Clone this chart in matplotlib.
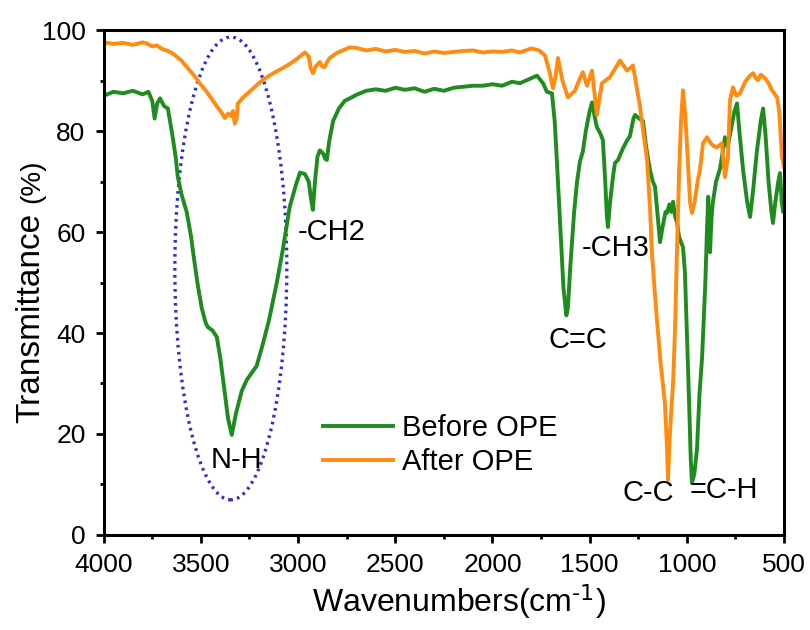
import matplotlib
matplotlib.use('Agg')
import numpy
from matplotlib import pyplot
from matplotlib.patches import Ellipse

pyplot.rcParams['font.family'] = ['Liberation Sans', 'DejaVu Sans']
pyplot.rcParams['mathtext.default'] = 'regular'

# Before OPE (green), wavenumber / transmittance
before_wn = [4000, 3950, 3900, 3850, 3800, 3770, 3750, 3738, 3725, 3710, 3690, 3670,
             3650, 3630, 3619, 3600, 3573, 3550, 3540, 3520, 3496, 3475, 3465, 3440,
             3418, 3400, 3380, 3360, 3341, 3320, 3290, 3264, 3240, 3213, 3180, 3150,
             3110, 3079, 3043, 3010, 2990, 2965, 2945, 2935, 2924, 2912, 2900, 2888,
             2870, 2860, 2852, 2840, 2820, 2790, 2760, 2734, 2700, 2650, 2600, 2550,
             2500, 2450, 2400, 2350, 2300, 2250, 2200, 2150, 2100, 2050, 2000, 1950,
             1900, 1859, 1800, 1771, 1750, 1740, 1720, 1694, 1680, 1669, 1650, 1635,
             1620, 1612, 1600, 1580, 1565, 1550, 1535, 1520, 1500, 1488, 1475, 1463,
             1445, 1432, 1420, 1412, 1406, 1395, 1380, 1370, 1354, 1330, 1310, 1293,
             1275, 1267, 1245, 1226, 1210, 1190, 1175, 1164, 1150, 1138, 1125, 1110,
             1102, 1090, 1080, 1071, 1060, 1051, 1040, 1030, 1020, 1010, 1000, 990,
             980, 974, 962, 948, 935, 922, 905, 897, 890, 881, 873, 866, 850, 830,
             815, 804, 790, 770, 755, 742, 730, 710, 690, 675, 660, 640, 620, 608,
             595, 580, 565, 557, 545, 530, 521, 512, 505, 500]
before_t = [87.0, 87.8, 87.5, 88.0, 87.3, 87.8, 86.0, 82.5, 85.5, 86.5, 85.0, 84.5,
            80.0, 75.0, 71.0, 67.5, 64.0, 59.0, 56.0, 50.5, 45.0, 42.0, 41.2, 40.5,
            39.2, 35.0, 29.0, 23.0, 19.8, 24.0, 28.5, 30.7, 32.0, 33.5, 38.0, 42.5,
            49.9, 56.4, 65.0, 69.5, 71.8, 71.5, 70.0, 67.0, 64.4, 70.5, 75.0, 76.2,
            75.5, 74.5, 74.3, 78.0, 82.0, 84.5, 86.0, 86.5, 87.2, 88.0, 88.3, 88.0,
            88.6, 88.2, 88.5, 87.8, 88.4, 88.0, 88.6, 88.8, 89.0, 89.0, 89.3, 89.0,
            89.8, 89.5, 90.5, 91.0, 90.0, 89.5, 87.8, 87.5, 82.0, 74.3, 60.0, 49.0,
            43.5, 45.0, 53.0, 64.0, 70.0, 74.0, 76.0, 80.0, 84.0, 85.7, 83.0, 80.8,
            79.5, 78.2, 70.0, 63.5, 61.0, 66.0, 71.0, 73.7, 74.3, 76.5, 78.0, 79.0,
            82.5, 83.2, 82.5, 82.0, 77.0, 72.3, 70.0, 69.0, 63.0, 58.0, 61.0, 64.0,
            63.8, 65.5, 64.0, 66.0, 63.0, 62.0, 59.0, 58.0, 57.0, 52.0, 40.0, 28.0,
            15.0, 10.3, 12.0, 17.0, 28.0, 35.0, 50.0, 60.0, 67.0, 56.0, 63.0, 66.0,
            70.0, 72.5, 76.0, 78.8, 77.0, 81.0, 84.0, 85.5, 80.0, 72.0, 66.0, 63.0,
            68.0, 76.0, 82.0, 84.5, 79.0, 70.0, 64.0, 61.8, 66.0, 70.0, 71.7, 66.0,
            64.0, 68.0]

# After OPE (orange)
after_wn = [4000, 3950, 3900, 3850, 3800, 3779, 3750, 3727, 3700, 3670, 3645, 3600,
            3557, 3530, 3506, 3470, 3439, 3410, 3390, 3377, 3360, 3345, 3335, 3326,
            3316, 3310, 3280, 3250, 3213, 3180, 3140, 3079, 3040, 3000, 2965, 2945,
            2935, 2924, 2910, 2888, 2875, 2863, 2850, 2837, 2800, 2734, 2700, 2650,
            2600, 2550, 2500, 2450, 2400, 2350, 2300, 2250, 2200, 2150, 2100, 2050,
            2000, 1950, 1900, 1859, 1800, 1760, 1730, 1705, 1689, 1675, 1663, 1640,
            1612, 1576, 1550, 1535, 1514, 1488, 1463, 1437, 1396, 1344, 1308, 1277,
            1241, 1205, 1190, 1180, 1165, 1154, 1135, 1113, 1103, 1097, 1090, 1080,
            1071, 1060, 1051, 1040, 1030, 1020, 1010, 1000, 984, 974, 960, 945, 933,
            917, 897, 875, 860, 845, 820, 804, 789, 778, 763, 745, 727, 700, 680,
            660, 645, 634, 620, 598, 580, 562, 536, 525, 511, 500]
after_t = [97.6, 97.3, 97.5, 97.1, 97.6, 97.4, 96.8, 97.0, 96.3, 95.9, 95.4, 94.0,
           92.0, 90.8, 89.5, 87.8, 86.1, 84.5, 83.5, 82.6, 83.5, 83.0, 84.0, 81.5,
           82.5, 85.5, 86.8, 87.8, 89.1, 90.2, 91.2, 92.5, 93.4, 94.5, 95.6, 94.8,
           92.5, 91.5, 92.8, 93.7, 92.8, 92.7, 93.8, 94.5, 95.5, 96.6, 96.5, 96.0,
           96.3, 95.8, 96.1, 95.7, 95.9, 95.4, 95.8, 95.5, 95.7, 95.9, 96.0, 95.6,
           95.8, 95.7, 96.0, 95.6, 96.4, 96.0, 95.0, 91.5, 88.5, 91.0, 94.5, 90.0,
           86.7, 88.0, 90.5, 91.7, 89.0, 92.0, 83.2, 89.5, 90.7, 94.0, 92.0, 93.0,
           84.8, 74.3, 65.0, 56.0, 48.0, 42.6, 34.0, 26.1, 18.0, 10.9, 18.0, 25.0,
           30.0, 42.0, 56.4, 72.0, 82.0, 88.1, 84.0, 77.6, 66.0, 63.8, 66.0, 70.0,
           72.3, 77.6, 78.8, 77.5, 77.0, 76.8, 77.6, 70.9, 74.9, 86.1, 88.7, 87.0,
           87.5, 89.8, 90.8, 91.5, 90.5, 90.1, 91.2, 90.5, 89.5, 88.1, 86.7, 84.0,
           74.9, 73.0]

fig = pyplot.figure(figsize=(8.1, 6.3), dpi=100)
ax = fig.add_axes([0.128, 0.151, 0.840, 0.801])

ax.plot(before_wn, before_t, color='#1E8C1E', lw=2.8, label='Before OPE')
ax.plot(after_wn, after_t, color='#FF8C10', lw=2.8, label='After OPE')

# dotted ring round the N-H band
ring = Ellipse((3346, 52.8), 576, 91.7, fill=False, edgecolor='#3030D0',
               lw=2.4, linestyle=(0, (0.8, 1.3)))
ax.add_patch(ring)

ax.set_xlim(4000, 500)
ax.set_ylim(0, 100)
ax.set_xticks(numpy.arange(4000, 499, -500))
ax.set_xticks(numpy.arange(3750, 500, -500), minor=True)
ax.set_yticks(numpy.arange(0, 101, 20))
ax.set_yticks(numpy.arange(10, 100, 20), minor=True)
ax.tick_params(which='major', direction='out', length=6, width=2, labelsize=19, pad=7)
ax.tick_params(which='minor', direction='out', length=3, width=2)
for s in ax.spines.values():
    s.set_linewidth(2.2)

peaks = [('-CH2', 3002, 60.0), ('-CH3', 1540, 56.8), ('C=C', 1710, 38.6),
         ('N-H', 3449, 14.9), ('C-C', 1329, 8.3), ('=C-H', 984, 8.9)]
for txt, x, y in peaks:
    ax.text(x, y, txt, fontsize=21, ha='left', va='center')

ax.legend(loc='center left', bbox_to_anchor=(0.322, 0.178), frameon=False,
          fontsize=21, handlelength=2.4, handletextpad=0.3, labelspacing=0.2,
          borderpad=0, borderaxespad=0)

ax.set_xlabel(r'Wavenumbers(cm$^{\text{-1}}$)', fontsize=23)
ax.xaxis.set_label_coords(0.522, -0.152)
ax.xaxis.label.set_va('baseline')

fig.text(0.0488, 0.495, 'Transmittance', fontsize=24, rotation=90,
         rotation_mode='anchor', ha='center', va='baseline')
fig.text(0.0488, 0.713, '(%)', fontsize=20, rotation=90,
         rotation_mode='anchor', ha='center', va='baseline')

fig.savefig('out.png', dpi=100)
